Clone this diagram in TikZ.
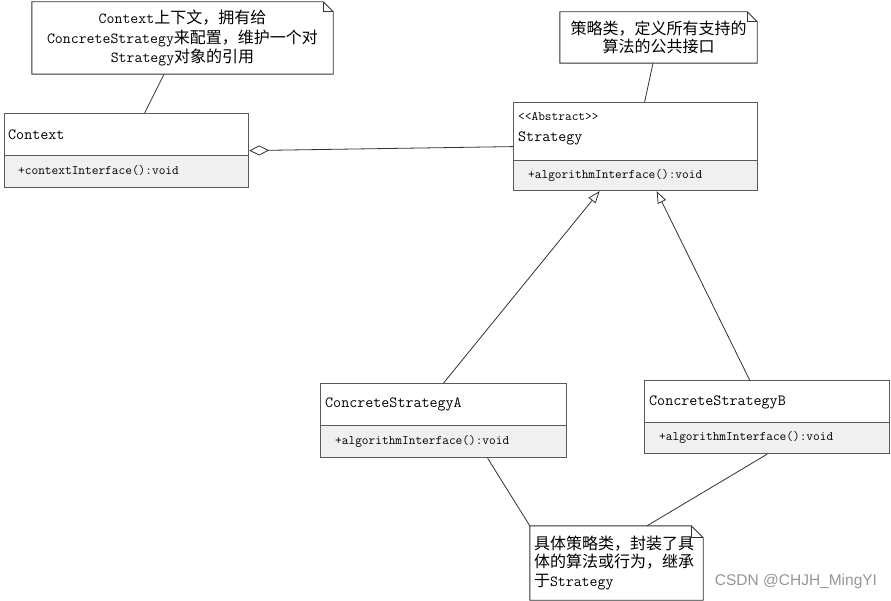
\documentclass[tikz,border=0pt]{standalone}
\usepackage{fontspec}
\newfontfamily\cjk{Noto Sans CJK SC}
\newfontfamily\wmfont{Liberation Sans}
\usetikzlibrary{arrows.meta,calc}
\definecolor{boxc}{RGB}{90,90,90}
\definecolor{linec}{RGB}{50,50,50}
\definecolor{methfill}{RGB}{240,240,240}
\definecolor{wmc}{RGB}{150,150,150}
\newcommand\en[1]{{\fontsize{15.4}{19}\selectfont\ttfamily #1}}
\newcommand\notefold[2]{%
  \draw[noteline] (#1.north west) -- ([xshift=-#2]#1.north east) -- ([yshift=-#2]#1.north east) -- (#1.south east) -- (#1.south west) -- cycle;
  \draw[noteline] ([xshift=-#2]#1.north east) -- ([xshift=-#2,yshift=-#2]#1.north east) -- ([yshift=-#2]#1.north east);}
\begin{document}
\begin{tikzpicture}[x=1pt,y=-1pt,
  clsbox/.style={draw=boxc, line width=1.2pt, fill=white, anchor=north west, inner sep=0pt},
  clsmeth/.style={draw=boxc, line width=1.2pt, fill=methfill, anchor=north west, inner sep=0pt},
  clsname/.style={anchor=west, inner sep=0pt, font=\fontsize{15.6}{18}\selectfont\ttfamily},
  methname/.style={anchor=west, inner sep=0pt, font=\fontsize{13}{15}\selectfont\ttfamily},
  notebox/.style={draw=none, fill=white, inner sep=4pt, font=\cjk\fontsize{16}{18.5}\selectfont},
  noteline/.style={draw=linec, line width=0.9pt},
  conn/.style={draw=linec, line width=0.8pt},
  inherit/.style={conn, -{Triangle[open, length=12pt, width=9pt, fill=white]}},
  agg/.style={conn, {Diamond[open, length=20pt, width=10pt, fill=white]}-}
]
\fill[white] (0,0) rectangle (891,601);
\useasboundingbox (0,0) rectangle (891,601);

% notes
\node[notebox, minimum width=301pt, minimum height=72pt, align=center,
      font=\cjk\fontsize{16}{19.5}\selectfont] (n1) at (182.5,38)
  {\en{Context}上下文，拥有给\\\en{ConcreteStrategy}来配置，维护一个对\\\en{Strategy}对象的引用};
\notefold{n1}{10pt}

\node[notebox, minimum width=197pt, minimum height=51pt, align=center] (n2) at (658.5,37.5)
  {策略类，定义所有支持的\\算法的公共接口};
\notefold{n2}{10pt}

\node[notebox, minimum width=173pt, minimum height=74pt, text width=165pt, align=left] (n3) at (616.5,563)
  {具体策略类，封装了具\\体的算法或行为，继承\\于\en{Strategy}};
\notefold{n3}{12pt}

% classes
\node[clsbox, minimum width=244pt, minimum height=74pt] (ctx) at (4,113) {};
\node[clsmeth, minimum width=244pt, minimum height=32pt] (ctxm) at (4,155) {};
\node[clsname] (ctxn) at (8,135) {Context};
\node[methname] (ctxf) at (18,170.5) {+contextInterface():void};

\node[clsbox, minimum width=244pt, minimum height=88pt] (strat) at (513,102) {};
\node[clsmeth, minimum width=244pt, minimum height=30pt] (stratm) at (513,160) {};
\node[methname] (strats) at (518,116) {{<}{<}Abstract{>}{>}};
\node[clsname] (stratn) at (518,138.5) {Strategy};
\node[methname] (stratf) at (528,175) {+algorithmInterface():void};

\node[clsbox, minimum width=246pt, minimum height=74pt] (csa) at (320,383) {};
\node[clsmeth, minimum width=246pt, minimum height=32pt] (csam) at (320,425) {};
\node[clsname] (csan) at (325,404) {ConcreteStrategyA};
\node[methname] (csaf) at (335,441) {+algorithmInterface():void};

\node[clsbox, minimum width=245pt, minimum height=73pt] (csb) at (644,380) {};
\node[clsmeth, minimum width=245pt, minimum height=31pt] (csbm) at (644,422) {};
\node[clsname] (csbn) at (649,402) {ConcreteStrategyB};
\node[methname] (csbf) at (659,437) {+algorithmInterface():void};

% connectors
\draw[conn] ([xshift=-18.5pt]n1.south) -- ([xshift=18pt]ctx.north);
\draw[conn] ([xshift=-5.5pt]n2.south) -- ([xshift=9pt]strat.north);
\draw[agg] (ctx.east) -- (strat.west);
\draw[inherit] (csa.north) -- ([xshift=-36pt]strat.south);
\draw[inherit] ([xshift=-17.5pt]csb.north) -- ([xshift=21pt]strat.south);
\draw[conn] ([xshift=44pt]csam.south) -- (n3.north west);
\draw[conn] (csbm.south) -- ([xshift=30.5pt]n3.north);

% watermark
\node[anchor=center, inner sep=0pt, text=wmc, font=\wmfont\fontsize{15.5}{18}\selectfont] (wm) at (796,581) {CSDN @CHJH\_MingYI};
\end{tikzpicture}
\end{document}
